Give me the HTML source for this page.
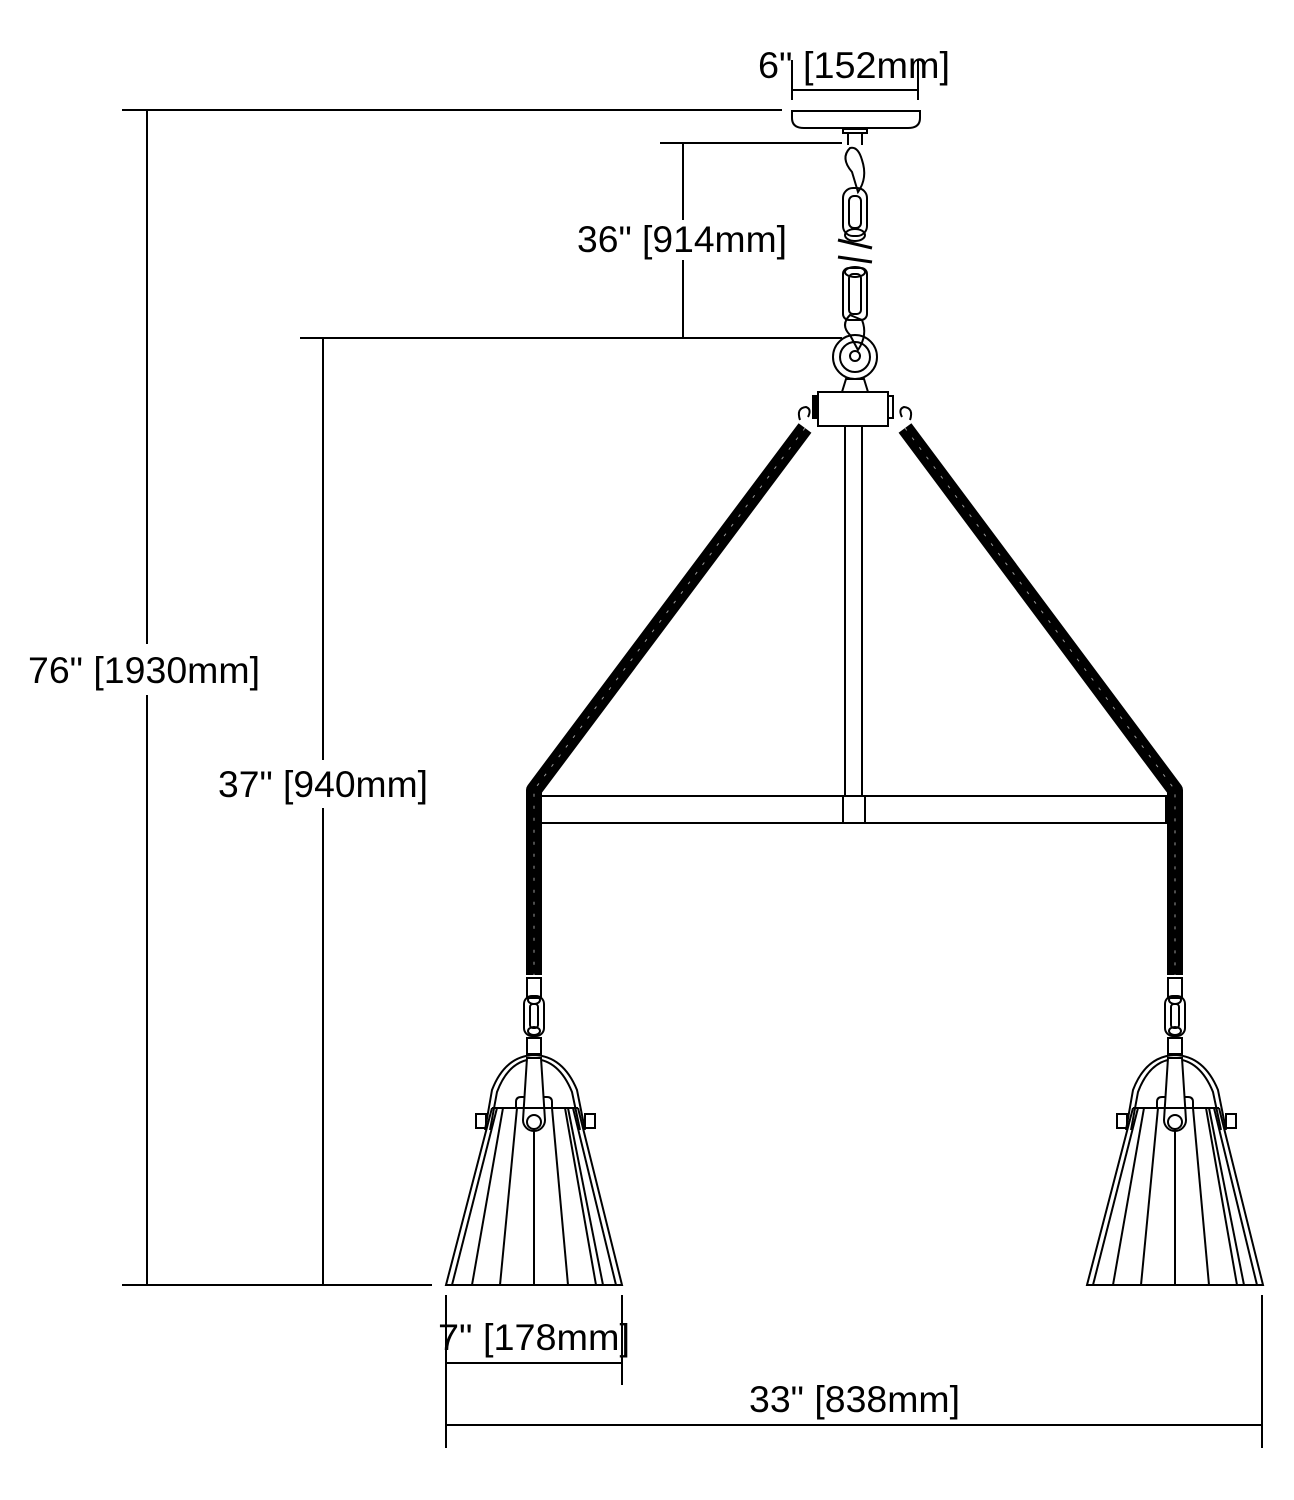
<!DOCTYPE html>
<html><head><meta charset="utf-8"><style>
html,body{margin:0;padding:0;background:#fff;}
svg{display:block;}
text{font-family:"Liberation Sans",sans-serif;font-size:37px;fill:#000;}
</style></head><body>
<svg width="1294" height="1500" viewBox="0 0 1294 1500" xmlns="http://www.w3.org/2000/svg">
<g stroke="#000" stroke-width="2" fill="none">
<!-- dimension lines -->
<line x1="122" y1="110" x2="782" y2="110"/>
<line x1="147" y1="110" x2="147" y2="644"/>
<line x1="147" y1="695" x2="147" y2="1285"/>
<line x1="122" y1="1285" x2="432" y2="1285"/>
<line x1="660" y1="143" x2="842" y2="143"/>
<line x1="683" y1="143" x2="683" y2="220"/>
<line x1="683" y1="260" x2="683" y2="338"/>
<line x1="300" y1="338" x2="842" y2="338"/>
<line x1="323" y1="338" x2="323" y2="760"/>
<line x1="323" y1="808" x2="323" y2="1285"/>
<line x1="792" y1="60" x2="792" y2="100"/>
<line x1="918" y1="60" x2="918" y2="100"/>
<line x1="792" y1="90" x2="918" y2="90"/>
<line x1="446" y1="1295" x2="446" y2="1448"/>
<line x1="622" y1="1295" x2="622" y2="1385"/>
<line x1="446" y1="1363" x2="622" y2="1363"/>
<line x1="1262" y1="1295" x2="1262" y2="1448"/>
<line x1="446" y1="1425" x2="1262" y2="1425"/>
<!-- canopy -->
<path d="M792 111 H920 V118 Q920 128 908 128 H804 Q792 128 792 118 Z"/>
<rect x="843" y="129" width="24" height="4"/>
<line x1="848" y1="133" x2="848" y2="145"/><line x1="862" y1="133" x2="862" y2="145"/>
<!-- chain -->
<path d="M850 148 Q840 158 852 172 L858 192 Q868 178 862 160 Q858 146 850 148 Z"/>
<rect x="843" y="188" width="24" height="48" rx="10"/>
<rect x="849" y="196" width="12" height="32" rx="5"/>
<ellipse cx="855" cy="235" rx="10" ry="6"/>
<line x1="838" y1="240" x2="872" y2="248" stroke-width="3"/>
<line x1="838" y1="257" x2="872" y2="262" stroke-width="3"/>
<rect x="843" y="268" width="24" height="52" rx="6"/>
<rect x="849" y="274" width="12" height="40" rx="4"/>
<ellipse cx="855" cy="272" rx="10" ry="5"/>
<path d="M850 315 Q840 325 850 335 L858 350 Q868 335 862 320 Z"/>
<circle cx="855" cy="357" r="22"/>
<circle cx="855" cy="357" r="15"/>
<circle cx="855" cy="356" r="5"/>
<path d="M846 379 L864 379 L868 392 L842 392 Z"/>
<!-- hub -->
<rect x="818" y="392" width="70" height="34"/>
<rect x="813" y="396" width="5" height="22" fill="#000"/>
<rect x="888" y="396" width="5" height="22"/>
<path d="M800 420 q-4 -12 6 -13 q6 2 2 10"/><path d="M910 420 q4 -12 -6 -13 q-6 2 -2 10"/>
<!-- rod -->
<line x1="845" y1="426" x2="845" y2="796"/>
<line x1="862" y1="426" x2="862" y2="796"/>
<!-- crossbar -->
<rect x="540" y="796" width="626" height="27"/>
<rect x="843" y="796" width="22" height="27"/>
</g>
<!-- ropes -->
<g stroke="#000" stroke-width="16" fill="none" stroke-linejoin="round">
<path d="M805 428 L534 790 L534 975"/>
<path d="M905 428 L1175 790 L1175 975"/>
</g>
<g stroke="#fff" stroke-width="1" fill="none" stroke-dasharray="3 9" opacity="0.6">
<path d="M805 428 L534 790 L534 975"/>
<path d="M905 428 L1175 790 L1175 975"/>
</g>
<!-- shades -->
<g id="shade" stroke="#000" stroke-width="2" fill="none">
<rect x="527" y="978" width="14" height="20"/>
<rect x="524" y="996" width="20" height="40" rx="8"/>
<rect x="530" y="1004" width="8" height="24" rx="3"/>
<ellipse cx="534" cy="1000" rx="6" ry="4"/><ellipse cx="534" cy="1031" rx="6" ry="4"/>
<rect x="527" y="1038" width="14" height="16"/>
<path d="M485 1130 L492 1090 Q505 1056 534 1055 Q563 1056 577 1090 L585 1130"/>
<path d="M490 1130 L497 1092 Q509 1060 534 1059 Q559 1060 572 1092 L580 1130"/>
<rect x="476" y="1114" width="10" height="14"/><rect x="585" y="1114" width="10" height="14"/>
<path d="M516 1109 V1102 Q516 1097 521 1097 H547 Q552 1097 552 1102 V1109"/>
<path d="M527 1058 L541 1058 L545 1120 A11 11 0 0 1 523 1120 Z" fill="#fff"/>
<circle cx="534" cy="1122" r="7"/>
<line x1="492" y1="1108" x2="578" y2="1108"/>
<path d="M492 1108 L446 1285 L622 1285 L578 1108"/>
<line x1="497" y1="1108" x2="452" y2="1285"/>
<line x1="573" y1="1108" x2="616" y2="1285"/>
<line x1="503" y1="1108" x2="472" y2="1285"/>
<line x1="517" y1="1108" x2="500" y2="1285"/>
<line x1="534" y1="1129" x2="534" y2="1285"/>
<line x1="552" y1="1108" x2="568" y2="1285"/>
<line x1="565" y1="1108" x2="596" y2="1285"/>
<line x1="568" y1="1108" x2="603" y2="1285"/>
</g>
<use href="#shade" transform="translate(641,0)"/>
<!-- labels -->
<text x="758" y="78" textLength="192" lengthAdjust="spacingAndGlyphs">6" [152mm]</text>
<text x="577" y="252" textLength="210" lengthAdjust="spacingAndGlyphs">36" [914mm]</text>
<text x="28" y="683" textLength="232" lengthAdjust="spacingAndGlyphs">76" [1930mm]</text>
<text x="218" y="797" textLength="210" lengthAdjust="spacingAndGlyphs">37" [940mm]</text>
<text x="438" y="1350" textLength="192" lengthAdjust="spacingAndGlyphs">7" [178mm]</text>
<text x="749" y="1412" textLength="211" lengthAdjust="spacingAndGlyphs">33" [838mm]</text>
</svg>
</body></html>
